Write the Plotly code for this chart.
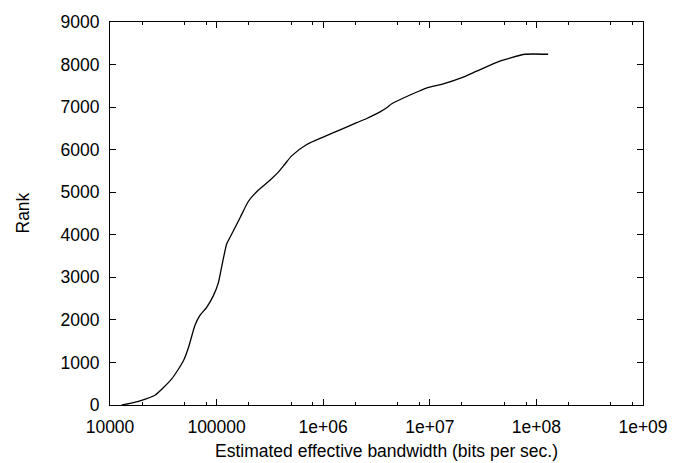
import plotly.graph_objects as go

# Estimated effective bandwidth (bits/sec) and rank
bandwidth = [12900, 15400, 19100, 26400, 37900, 48700, 54300, 62700, 69800, 80700,
             93100, 103800, 111700, 124500, 138700, 166000, 198300, 237700, 316800,
             379000, 438000, 506000, 700000, 1000000, 1440000, 2060000, 2560000,
             3410000, 3940000, 4400000, 6520000, 8090000, 9680000, 12900000,
             20600000, 27500000, 42500000, 56500000, 78200000, 129000000]
rank = [0, 40, 99, 230, 613, 1033, 1339, 1875, 2105, 2296,
        2564, 2870, 3253, 3788, 4017, 4401, 4782, 5011, 5280,
        5471, 5663, 5854, 6122, 6297, 6467, 6634, 6733,
        6887, 6986, 7078, 7284, 7385, 7461, 7537,
        7707, 7845, 8052, 8150, 8242, 8242]

x_tick_vals = [1e4, 1e5, 1e6, 1e7, 1e8, 1e9]
x_tick_text = ["10000", "100000", "1e+06", "1e+07", "1e+08", "1e+09"]
x_minor_vals = [m * 10 ** k for k in range(4, 9) for m in (2, 5, 8)]
y_tick_vals = list(range(0, 9001, 1000))

FONT = "Liberation Sans, Arial, sans-serif"

fig = go.Figure()
fig.add_trace(go.Scatter(x=bandwidth, y=rank, mode="lines",
                         line=dict(color="black", width=1.3, shape="spline", smoothing=0.6),
                         showlegend=False, hoverinfo="skip"))

axis_common = dict(showline=True, linecolor="black", linewidth=1, mirror="ticks",
                   ticks="inside", tickcolor="black", tickwidth=1, ticklen=6,
                   showgrid=False, zeroline=False,
                   tickfont=dict(family=FONT, size=17.5, color="black"))

fig.update_xaxes(type="log", range=[4, 9], tickmode="array",
                 tickvals=x_tick_vals, ticktext=x_tick_text,
                 ticklabelstandoff=6,
                 minor=dict(tickmode="array", tickvals=x_minor_vals, ticks="inside",
                            ticklen=3, tickcolor="black", tickwidth=1, showgrid=False),
                 **axis_common)
fig.update_yaxes(range=[0, 9000], tickmode="array", tickvals=y_tick_vals,
                 ticklabelstandoff=6, **axis_common)

fig.add_annotation(text="Rank", xref="paper", yref="paper", x=0, y=0.5,
                   xshift=-88, textangle=-90, showarrow=False,
                   xanchor="center", yanchor="middle",
                   font=dict(family=FONT, size=17.5, color="black"))
fig.add_annotation(text="Estimated effective bandwidth (bits per sec.)",
                   xref="paper", yref="paper", x=0.5, y=0, xshift=10, yshift=-46,
                   showarrow=False, xanchor="center", yanchor="middle",
                   font=dict(family=FONT, size=17.5, color="black"))

fig.update_layout(width=689, height=463, autosize=False,
                  margin=dict(l=110, r=46, t=13, b=58),
                  paper_bgcolor="white", plot_bgcolor="white")

fig.write_html("out.html")
